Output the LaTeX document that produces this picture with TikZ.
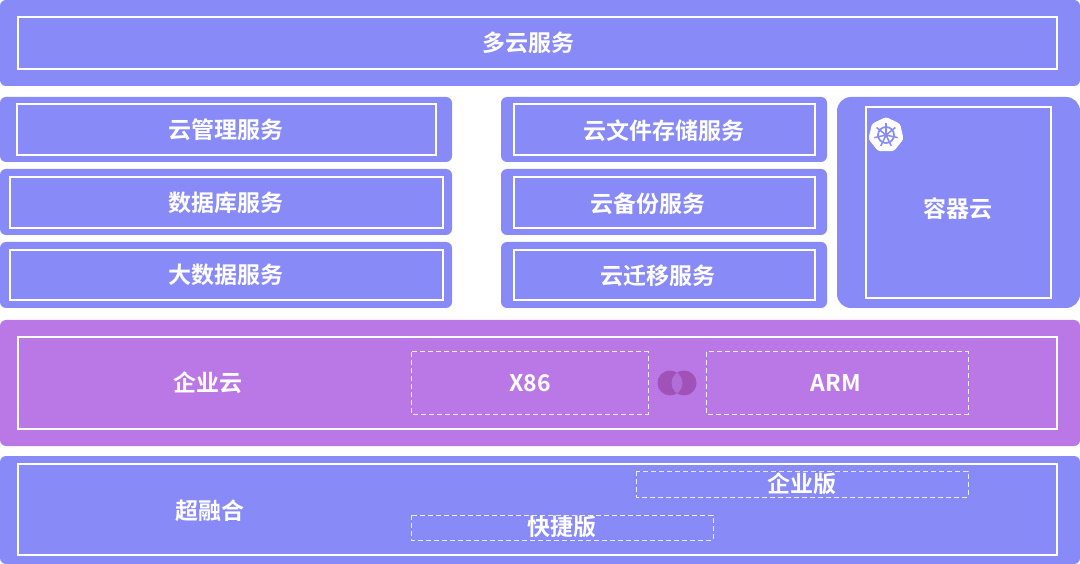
\documentclass[tikz,border=0pt]{standalone}
\usepackage{fontspec}
\usetikzlibrary{calc}
\newfontfamily\cjk{Noto Sans CJK SC Bold}
\definecolor{bl}{RGB}{135,138,247}
\definecolor{pu}{RGB}{185,120,230}
\definecolor{dk}{RGB}{160,82,185}
\begin{document}
\begin{tikzpicture}[x=1pt,y=-1pt,
 outer/.style={fill=bl,rounded corners=6pt},
 outerp/.style={fill=pu,rounded corners=6pt},
 inner/.style={draw=white,line width=1.2pt},
 dash box/.style={draw=white!85!gray,line width=1pt,dash pattern=on 5pt off 3pt},
 lbl/.style={text=white,font=\cjk\fontsize{23}{26}\selectfont}]
\useasboundingbox (0,0) rectangle (1080,564);
% top
\fill[outer] (0,0) rectangle (1080,86);
\draw[inner] (18,17) rectangle (1057,69);
\node[lbl] (t) at (528,43) {多云服务};
% left column
\foreach \ya/\yb/\ia/\ib/\ix/\iy/\txt/\nm in {97/162/104/155/17/436/云管理服务/a,169/235/177/228/10/443/数据库服务/b,242/308/250/300/10/443/大数据服务/c}{
 \fill[outer] (0,\ya) rectangle (452,\yb);
 \draw[inner] (\ix,\ia) rectangle (\iy,\ib);
 \node[lbl] (\nm) at (226,{(\ia+\ib)/2}) {\txt};
}
% middle column
\foreach \ya/\yb/\ia/\ib/\tx/\txt/\nm in {97/162/104/155/664/云文件存储服务/d,169/235/177/228/648/云备份服务/e,242/308/250/300/658/云迁移服务/f}{
 \fill[outer] (501,\ya) rectangle (827,\yb);
 \draw[inner] (514,\ia) rectangle (815,\ib);
 \node[lbl] (\nm) at (\tx,{(\ia+\ib)/2+1}) {\txt};
}
% container
\fill[outer,rounded corners=14pt] (837,97) rectangle (1080,308);
\draw[inner] (866,107) rectangle (1051,298);
\node[lbl] (g) at (958,209) {容器云};
\coordinate (kc) at (886,135);
\fill[white,rounded corners=2.5pt] ($(kc)+(-90:18)$) \foreach \k in {1,...,6}{ -- ($(kc)+(-90+\k*360/7:18)$)} -- cycle;
\draw[bl,line width=1.7pt] (kc) circle (8);
\foreach \k in {0,...,6}{\draw[bl,line width=1.5pt] (kc) -- ++(-90+\k*360/7:12);}
\fill[bl] (kc) circle (2.4);
% enterprise cloud
\fill[outerp] (0,320) rectangle (1080,446);
\draw[inner] (18,337) rectangle (1057,429);
\node[lbl] (h) at (208,383) {企业云};
\draw[dash box] (411,352) rectangle (648,414);
\node[lbl] (x) at (530,383) {X86};
\draw[dash box] (706,352) rectangle (968,414);
\node[lbl] (arm) at (836,383) {ARM};
\fill[dk] (670,383) circle (12.5);
\fill[dk] (684,383) circle (12.5);
\begin{scope}\clip (670,383) circle (12.5); \fill[pu!70!dk] (684,383) circle (12.5);\end{scope}
% hyperconverged
\fill[outer] (0,456) rectangle (1080,564);
\draw[inner] (18,464) rectangle (1057,555);
\node[lbl] (i) at (210,511) {超融合};
\draw[dash box] (636,471) rectangle (968,497);
\node[lbl] (j) at (802,484) {企业版};
\draw[dash box] (411,515) rectangle (713,540);
\node[lbl] (k) at (562,527) {快捷版};
\end{tikzpicture}
\end{document}
